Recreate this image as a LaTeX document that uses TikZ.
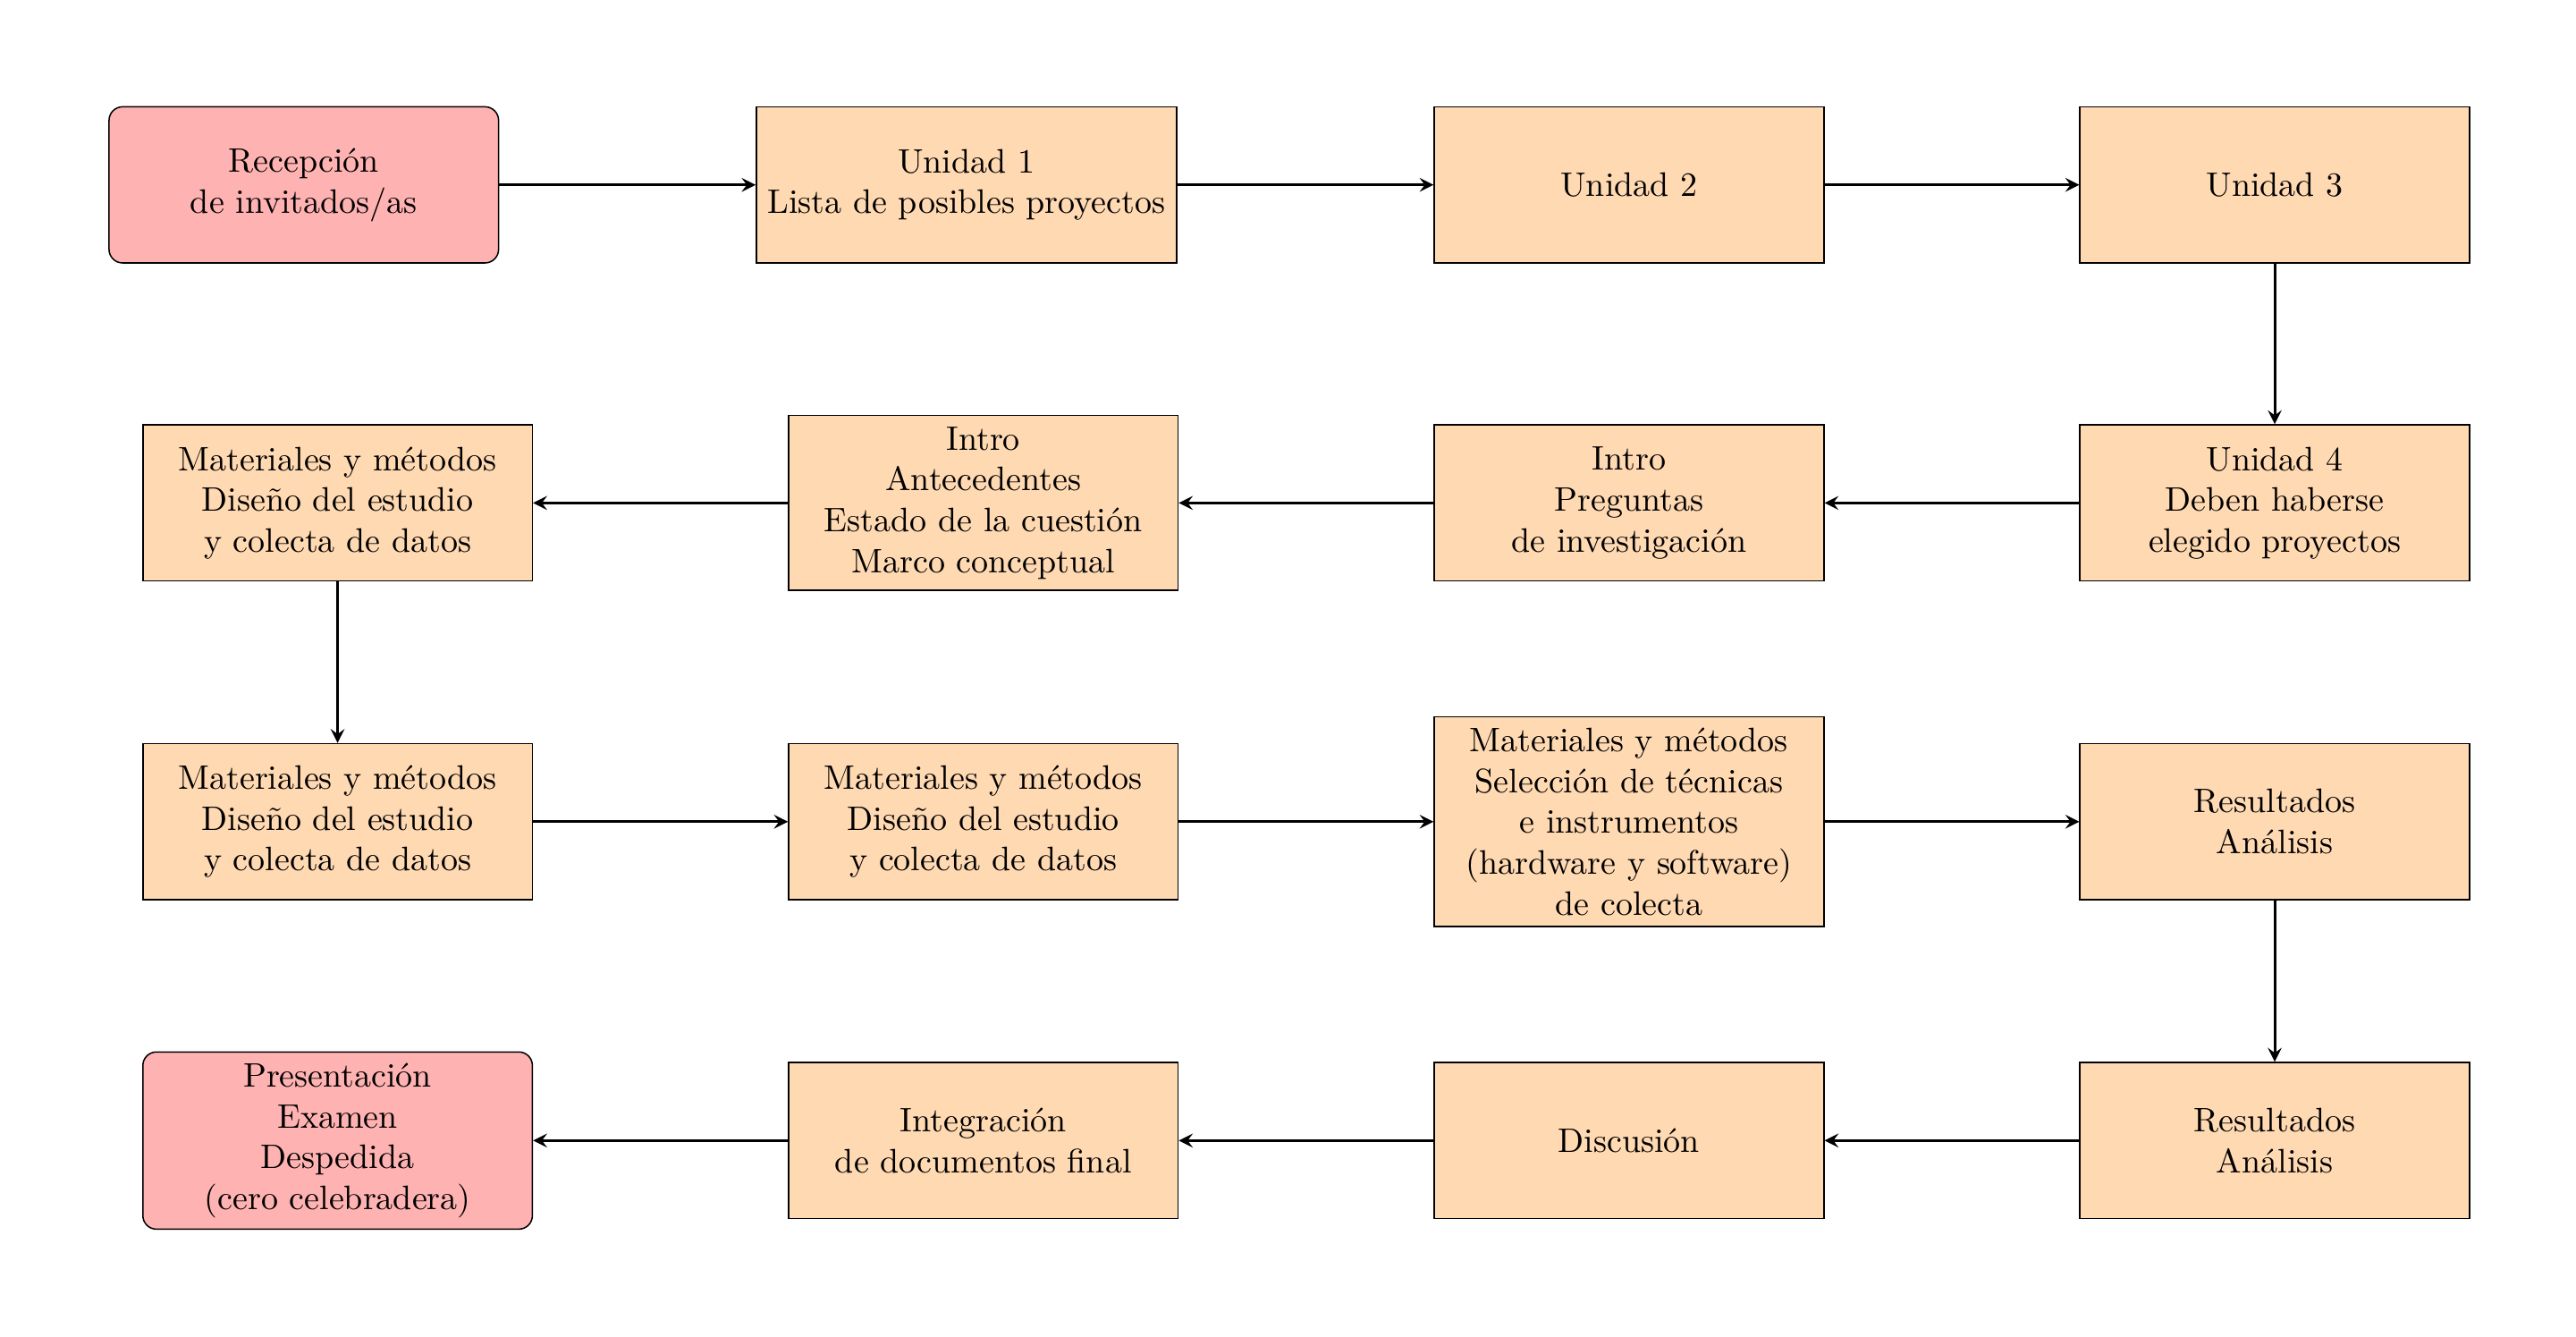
\documentclass[tikz,border=0pt]{standalone}
\usetikzlibrary{positioning,arrows}
\begin{document}
\begin{tikzpicture}[
  proc/.style={draw, fill=orange!30, minimum width=4.03cm, minimum height=1.615cm, align=center},
  term/.style={draw, fill=red!30, rounded corners, minimum width=4.03cm, minimum height=1.615cm, align=center},
  arr/.style={thick, -stealth}
]
\useasboundingbox (0,0) rectangle (26.65,-13.82);
% row 1
\node[proc] (u2) at (16.853,-1.912) {Unidad 2};
\node[proc, left=2.652cm of u2] (u1) {Unidad 1\\Lista de posibles proyectos};
\node[term, left=2.652cm of u1] (rec) {Recepción\\de invitados/as};
\node[proc] (u3) at (23.533,-1.912) {Unidad 3};
% row 2
\node[proc] (u4) at (23.533,-5.202) {Unidad 4\\Deben haberse\\elegido proyectos};
\node[proc] (ip) at (16.853,-5.202) {Intro\\Preguntas\\de investigación};
\node[proc] (ia) at (10.173,-5.202) {Intro\\Antecedentes\\Estado de la cuestión\\Marco conceptual};
\node[proc] (m1) at (3.493,-5.202) {Materiales y métodos\\Diseño del estudio\\y colecta de datos};
% row 3
\node[proc] (m2) at (3.493,-8.499) {Materiales y métodos\\Diseño del estudio\\y colecta de datos};
\node[proc] (m3) at (10.173,-8.499) {Materiales y métodos\\Diseño del estudio\\y colecta de datos};
\node[proc] (sel) at (16.853,-8.499) {Materiales y métodos\\Selección de técnicas\\e instrumentos\\(hardware y software)\\de colecta};
\node[proc] (r1) at (23.533,-8.499) {Resultados\\Análisis};
% row 4
\node[proc] (r2) at (23.533,-11.797) {Resultados\\Análisis};
\node[proc] (disc) at (16.853,-11.797) {Discusión};
\node[proc] (integ) at (10.173,-11.797) {Integración\\de documentos final};
\node[term] (pres) at (3.493,-11.797) {Presentación\\Examen\\Despedida\\(cero celebradera)};
% arrows
\draw[arr] (rec) -- (u1);
\draw[arr] (u1) -- (u2);
\draw[arr] (u2) -- (u3);
\draw[arr] (u3) -- (u4);
\draw[arr] (u4) -- (ip);
\draw[arr] (ip) -- (ia);
\draw[arr] (ia) -- (m1);
\draw[arr] (m1) -- (m2);
\draw[arr] (m2) -- (m3);
\draw[arr] (m3) -- (sel);
\draw[arr] (sel) -- (r1);
\draw[arr] (r1) -- (r2);
\draw[arr] (r2) -- (disc);
\draw[arr] (disc) -- (integ);
\draw[arr] (integ) -- (pres);
\end{tikzpicture}
\end{document}
